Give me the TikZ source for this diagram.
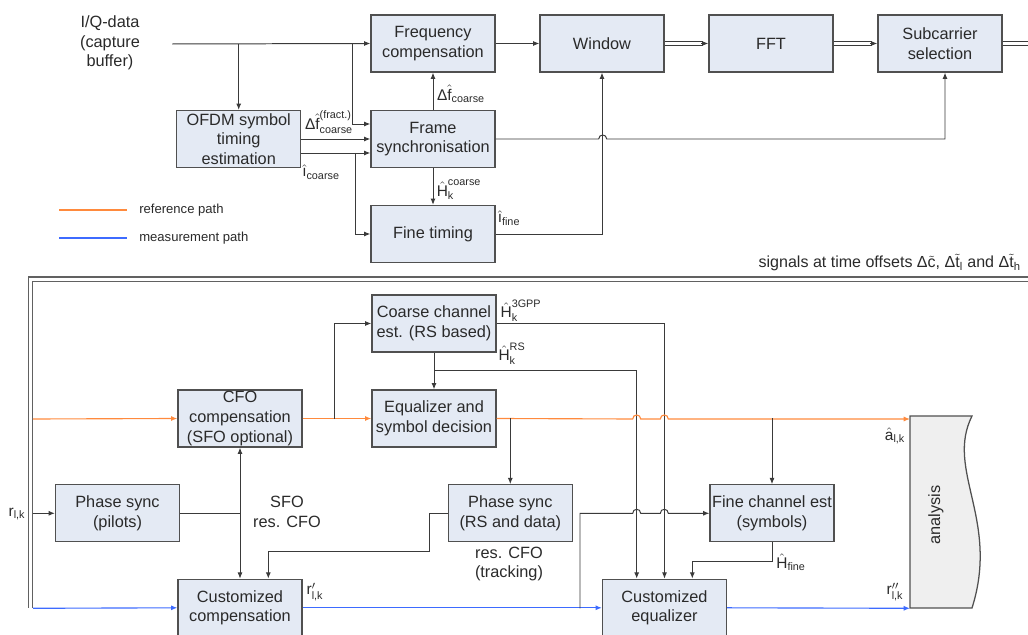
\documentclass[tikz,border=0pt]{standalone}
\usepackage{amsmath}
\usepackage{fontspec}
\setmainfont{Liberation Sans}
\usetikzlibrary{arrows.meta,calc}
\definecolor{boxfill}{HTML}{E4EAF4}
\definecolor{boxline}{HTML}{505050}
\definecolor{lineg}{HTML}{3A3A3A}
\definecolor{refor}{HTML}{FF8A3D}
\definecolor{measbl}{HTML}{3D6BFF}
\definecolor{txt}{HTML}{2A2A2A}
\definecolor{anafill}{HTML}{EFEFEF}
\newcommand{\tx}[1]{\text{#1}}
\begin{document}
\begin{tikzpicture}[x=0.025cm,y=-0.025cm,
  blk/.style={draw=boxline, fill=boxfill, line width=0.9pt, minimum width=3.1cm, minimum height=1.425cm, inner sep=0pt, align=center, text=txt, font=\fontsize{11.6}{14}\selectfont},
  con/.style={draw=lineg, line width=0.7pt},
  tip/.style={-{Latex[length=4.5pt,width=3.6pt]}},
  arr/.style={con, tip},
  darr/.style={con, {Latex[length=4.5pt,width=3.6pt]}-{Latex[length=4.5pt,width=3.6pt]}},
  oarr/.style={draw=refor, line width=0.8pt, -{Latex[length=4.5pt,width=3.6pt]}},
  barr/.style={draw=measbl, line width=0.8pt, -{Latex[length=4.5pt,width=3.6pt]}},
  railup/.style={draw=lineg, line width=0.7pt, transform canvas={yshift=1.15pt}},
  raildn/.style={draw=lineg, line width=0.7pt, transform canvas={yshift=-1.15pt}},
  bigrail/.style={draw=lineg!80, line width=0.75pt},
  lbl/.style={text=txt, font=\fontsize{11}{13}\selectfont, inner sep=0pt},
  txtl/.style={text=txt, font=\fontsize{11.6}{14}\selectfont, inner sep=0pt, align=center},
  leg/.style={text=txt, font=\fontsize{9.3}{11}\selectfont, inner sep=0pt, anchor=west},
]
\useasboundingbox (0,0) rectangle (1028,635);

% ---------- top half boxes ----------
\node[blk] (freq) at (433,43.5) {Frequency\\compensation};
\node[blk] (win)  at (602,43.5) {Window};
\node[blk] (fft)  at (771,43.5) {FFT};
\node[blk] (sub)  at (940,43.5) {Subcarrier\\selection};
\node[blk] (ofdm) at (238.7,139) {OFDM symbol\\timing\\estimation};
\node[blk] (frame) at (433,139) {Frame\\synchronisation};
\node[blk] (fine) at (433,234) {Fine timing};

\node[txtl] (iq) at (110,43) {I/Q-data\\(capture\\buffer)};
\coordinate (iqin) at (172,44);
\coordinate (b1) at (352,44);
\coordinate (b2) at (355,153);
\coordinate (outr) at (1030,43.5);

% ---------- top connectors ----------
\draw[arr] (iqin) -- (freq.west);
\draw[arr] (ofdm.north |- iqin) -- (ofdm.north);
\draw[arr] (b1) |- ($(frame.west)+(0,-15)$);
\draw[arr] (ofdm.east) -- (frame.west);
\draw[arr] ($(ofdm.east)+(0,14)$) -- ($(frame.west)+(0,14)$);
\draw[arr] (b2) |- (fine.west);
\draw[arr] (frame.north) -- (freq.south);
\draw[arr] (frame.south) -- (fine.north);
\draw[arr] (freq.east) -- (win.west);
% double connectors
\draw[railup] (win.east) -- ($(fft.west)+(-5,0)$);
\draw[raildn] (win.east) -- ($(fft.west)+(-5,0)$);
\draw[arr] ($(fft.west)+(-7,0)$) -- (fft.west);
\draw[railup] (fft.east) -- ($(sub.west)+(-5,0)$);
\draw[raildn] (fft.east) -- ($(sub.west)+(-5,0)$);
\draw[arr] ($(sub.west)+(-7,0)$) -- (sub.west);
\draw[railup] (sub.east) -- (outr);
\draw[raildn] (sub.east) -- (outr);
\draw[arr] (frame.east) -- (598.7,139) .. controls (598.7,133.7) and (606.7,133.7) .. (606.7,139) -| ($(sub.south)+(5,0)$);
\draw[arr] (fine.east) -| (win.south);

% ---------- top labels ----------
\node[lbl] (lfr) at (329,122) {$\tx{Δ}\hat{\tx{f}}^{\tx{(fract.)}}_{\tx{coarse}}$};
\node[lbl] (lic) at (321,172) {$\hat{\tx{ı}}_{\tx{coarse}}$};
\node[lbl] (lfc) at (461,94) {$\tx{Δ}\hat{\tx{f}}_{\tx{coarse}}$};
\node[lbl] (lhc) at (459,190) {$\hat{\tx{H}}^{\tx{coarse}}_{\tx{k}}$};
\node[lbl] (lif) at (509,218) {$\hat{\tx{ı}}_{\tx{fine}}$};

% ---------- legend ----------
\coordinate (lo1) at (59,210); \coordinate (lo2) at (127,210);
\coordinate (lb1) at (59,238); \coordinate (lb2) at (127,238);
\draw[draw=refor, line width=0.8pt] (lo1) -- (lo2);
\draw[draw=measbl, line width=0.8pt] (lb1) -- (lb2);
\node[leg] (lref) at (139,210) {reference path};
\node[leg] (lmea) at (139,238) {measurement path};

\node[text=txt, font=\fontsize{11.4}{13}\selectfont, inner sep=0pt, anchor=base east] (sig) at (1021,268)
  {signals at time offsets $\tx{Δ}\tilde{\tx{c}}$, $\tx{Δ}\tilde{\tx{t}}_{\tx{l}}$ and $\tx{Δ}\tilde{\tx{t}}_{\tx{h}}$};

% ---------- big double line ----------
\coordinate (dA1) at (1030,277);
\coordinate (dB1) at (28.6,277);
\coordinate (dC1) at (28.6,608.5);
\coordinate (dA2) at (1030,281.5);
\coordinate (dB2) at (32.4,281.5);
\coordinate (dC2) at (32.4,608.5);
\draw[bigrail] (dA1) -- (dB1) -- (dC1);
\draw[bigrail] (dA2) -- (dB2) -- (dC2);

% ---------- bottom boxes ----------
\node[blk] (coarse) at (434,323.5) {Coarse channel\\est. (RS based)};
\node[blk] (eq) at (434,418.5) {Equalizer and\\symbol decision};
\node[blk] (cfo) at (240,418.5) {CFO\\compensation\\(SFO optional)};
\node[blk] (ps1) at (117.5,513.3) {Phase sync\\(pilots)};
\node[blk] (comp) at (240,607.8) {Customized\\compensation};
\node[blk] (ps2) at (510.3,513.3) {Phase sync\\(RS and data)};
\node[blk] (fce) at (772,513.3) {Fine channel est\\(symbols)};
\node[blk] (ceq) at (664.5,607.8) {Customized\\equalizer};

% analysis
\draw[draw=boxline, fill=anafill, line width=0.9pt] (910,416) -- (972,416) .. controls (945,470) and (1000,520) .. (972,608) -- (910,608) -- cycle;
\node[txtl, rotate=90] (ana) at (936,515) {analysis};
\coordinate (anaA) at (910,419);
\coordinate (anaB) at (910,608.3);

% ---------- bottom connectors ----------
\coordinate (or0) at (33,419);
\coordinate (rin) at (33,513.3);
\coordinate (bl0) at (33,608.3);
\coordinate (oj) at (334,419);
\coordinate (rsj) at (434,370.7);
\coordinate (bj) at (580,608.3);

\draw[oarr] (or0) -- (cfo.west);
\draw[oarr] (cfo.east) -- (eq.west);
\draw[arr] (oj) |- (coarse.west);
\draw[arr] (coarse.south) -- (eq.north);
\draw[arr] (coarse.east) -| (ceq.north);
\draw[arr] (rsj) -| ($(ceq.north)+(-27.8,0)$);
\draw[arr] (fce.south) |- ++(0,19) -| ($(ceq.north)+(27.8,0)$);

\draw[oarr] (eq.east) -- (632.7,419) .. controls (632.7,413.7) and (640.7,413.7) .. (640.7,419)
  -- (660.3,419) .. controls (660.3,413.7) and (668.3,413.7) .. (668.3,419) -- (anaA);
\draw[arr] (ps2.north |- eq.east) -- (ps2.north);
\draw[arr] (fce.north |- eq.east) -- (fce.north);

\draw[arr] (rin) -- (ps1.west);
\draw[con] (ps1.east) -- (cfo.south |- ps1.east);
\draw[darr] (cfo.south) -- (comp.north);
\draw[arr] (ps2.west) -- (429.3,513.3) -- (429.3,551.7) -| ($(comp.north)+(28.3,0)$);

\draw[barr] (bl0) -- (comp.west);
\draw[barr] (comp.east) -- (ceq.west);
\draw[barr] (ceq.east) -- (anaB);
\draw[arr] (bj) -- (580,513.3) -- (632.7,513.3) .. controls (632.7,508) and (640.7,508) .. (640.7,513.3)
  -- (660.3,513.3) .. controls (660.3,508) and (668.3,508) .. (668.3,513.3) -- (fce.west);

% ---------- bottom labels ----------
\node[lbl] (l3g) at (521,311) {$\hat{\tx{H}}^{\tx{3GPP}}_{\tx{k}}$};
\node[lbl] (lrs) at (512,354) {$\hat{\tx{H}}^{\tx{RS}}_{\tx{k}}$};
\node[txtl] (lsfo) at (287,512) {SFO\\res. CFO};
\node[txtl] (ltrk) at (509,564) {res. CFO\\(tracking)};
\node[lbl] (lr1) at (315,592) {r$'_{\tx{l,k}}$};
\node[lbl] (lhf) at (791,562) {$\hat{\tx{H}}_{\tx{fine}}$};
\node[lbl] (la) at (895,436) {$\hat{\tx{a}}_{\tx{l,k}}$};
\node[lbl] (lr2) at (895,592) {r$''_{\tx{l,k}}$};
\node[lbl] (lr0) at (17,514) {r$_{\tx{l,k}}$};
\end{tikzpicture}
\end{document}
